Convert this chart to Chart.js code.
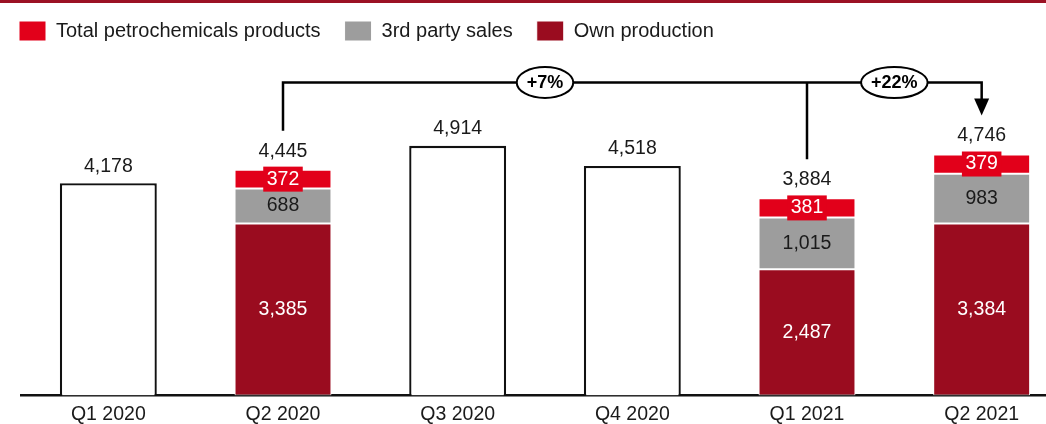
<!DOCTYPE html>
<html>
<head>
<meta charset="utf-8">
<script src="https://cdn.jsdelivr.net/npm/chart.js@4.4.0/dist/chart.umd.min.js"></script>
<style>
  html, body { margin: 0; padding: 0; background: #fff; overflow: hidden; }
  #wrap { position: relative; width: 1046px; height: 424px; overflow: hidden; }
  #rule { position: absolute; left: 0; top: 0; width: 100%; height: 3px; background: #9b1224; }
  canvas { position: absolute; left: 0; top: 0; }
</style>
</head>
<body>
<div id="wrap">
  <canvas id="chart" width="1069" height="424"></canvas>
  <div id="rule"></div>
</div>
<script>
const quarters = ["Q1 2020", "Q2 2020", "Q3 2020", "Q4 2020", "Q1 2021", "Q2 2021"];
const totals = [4178, 4445, 4914, 4518, 3884, 4746];
const ownProduction = [null, 3385, null, null, 2487, 3384];
const thirdPartySales = [null, 688, null, null, 1015, 983];
const petchemProducts = [null, 372, null, null, 381, 379];
// growth brackets: all start quarters point at the same end quarter
const growthFrom = [1, 4];
const growthTo = 5;
const growthLabels = ["+7%", "+22%"];
const bracketLevel = 6160;

const RED = "#e2001a";
const GREY = "#9d9d9d";
const DARK_RED = "#9a0c1f";
const TEXT = "#1a1a1a";
const FONT = "'Liberation Sans', Arial, sans-serif";

Chart.defaults.font.family = FONT;
Chart.defaults.font.size = 19.5;
Chart.defaults.color = TEXT;

const fmt = v => v.toLocaleString("en-US");
// quarters without a breakdown are drawn as outlined totals
const outlineTotals = totals.map((t, i) => ownProduction[i] == null ? t : null);

const annotations = {
  id: "annotations",
  afterDatasetsDraw(chart) {
    const ctx = chart.ctx;
    const x = chart.scales.x, y = chart.scales.y;
    const xs = i => x.getPixelForValue(i);
    const drop = i => y.getPixelForValue(totals[i]) - 39;
    ctx.save();
    ctx.textAlign = "center";
    ctx.textBaseline = "middle";
    ctx.font = "19.5px " + FONT;

    // values inside the stacked segments
    [0, 1, 2].forEach(di => {
      const ds = chart.data.datasets[di];
      chart.getDatasetMeta(di).data.forEach((bar, i) => {
        const v = ds.data[i];
        if (v == null) return;
        const cy = (bar.y + bar.base) / 2;
        const txt = fmt(v);
        if (di === 2) {
          const w = ctx.measureText(txt).width + 7;
          ctx.fillStyle = RED;
          ctx.fillRect(bar.x - w / 2, cy - 12.5, w, 25);
        }
        ctx.fillStyle = di === 1 ? TEXT : "#fff";
        ctx.fillText(txt, bar.x, cy);
      });
    });

    // totals above each bar
    ctx.fillStyle = TEXT;
    totals.forEach((t, i) => {
      const off = ownProduction[i] == null ? 17 : 18.5;
      ctx.fillText(fmt(t), xs(i), y.getPixelForValue(t) - off);
    });

    // bracket lines
    const lvl = y.getPixelForValue(bracketLevel);
    const xe = xs(growthTo), tip = drop(growthTo);
    ctx.strokeStyle = "#000";
    ctx.lineWidth = 2.5;
    ctx.lineJoin = "miter";
    ctx.beginPath();
    ctx.moveTo(xs(growthFrom[0]), drop(growthFrom[0]));
    ctx.lineTo(xs(growthFrom[0]), lvl);
    ctx.lineTo(xe, lvl);
    ctx.lineTo(xe, tip - 15);
    growthFrom.slice(1).forEach(i => {
      ctx.moveTo(xs(i), lvl);
      ctx.lineTo(xs(i), drop(i));
    });
    ctx.stroke();
    ctx.fillStyle = "#000";
    ctx.beginPath();
    ctx.moveTo(xe - 7.5, tip - 17);
    ctx.lineTo(xe + 7.5, tip - 17);
    ctx.lineTo(xe, tip);
    ctx.closePath();
    ctx.fill();

    // growth bubbles
    ctx.font = "bold 18px " + FONT;
    growthFrom.forEach((f, k) => {
      const next = k + 1 < growthFrom.length ? growthFrom[k + 1] : growthTo;
      const cx = (xs(f) + xs(next)) / 2;
      const rx = ctx.measureText(growthLabels[k]).width / 2 + 10;
      ctx.beginPath();
      ctx.ellipse(cx, lvl, rx, 15.5, 0, 0, Math.PI * 2);
      ctx.fillStyle = "#fff";
      ctx.fill();
      ctx.lineWidth = 2;
      ctx.stroke();
      ctx.fillStyle = "#000";
      ctx.fillText(growthLabels[k], cx, lvl + 1);
    });
    ctx.restore();
  }
};

const segment = { stack: "q", borderColor: "#fff", borderWidth: 1, borderSkipped: false };

new Chart(document.getElementById("chart"), {
  type: "bar",
  data: {
    labels: quarters,
    datasets: [
      { ...segment, label: "Own production", data: ownProduction, backgroundColor: DARK_RED },
      { ...segment, label: "3rd party sales", data: thirdPartySales, backgroundColor: GREY },
      { ...segment, label: "Total petrochemicals products", data: petchemProducts, backgroundColor: RED },
      { label: "total", stack: "q", data: outlineTotals, backgroundColor: "#fff",
        borderColor: "#111", borderWidth: 2.3 }
    ]
  },
  options: {
    responsive: false,
    animation: false,
    layout: { padding: { left: -5, top: -3, bottom: -9, right: 0 } },
    datasets: { bar: { barPercentage: 0.555, categoryPercentage: 1 } },
    plugins: {
      tooltip: { enabled: false },
      legend: {
        position: "top",
        align: "start",
        reverse: true,
        labels: {
          boxWidth: 27,
          boxHeight: 20,
          padding: 24,
          color: TEXT,
          font: { size: 20 },
          filter: item => item.text !== "total"
        }
      }
    },
    scales: {
      x: {
        stacked: true,
        z: 1,
        grid: { display: false, drawTicks: false },
        border: { display: true, color: "#111", width: 2.5 },
        ticks: { padding: 7, color: TEXT }
      },
      y: {
        stacked: true,
        min: 0,
        max: 6780,
        grid: { display: false, drawTicks: false },
        border: { display: false },
        ticks: { display: false },
        afterFit(scale) { scale.width = 26; }
      }
    }
  },
  plugins: [annotations]
});
</script>
</body>
</html>
